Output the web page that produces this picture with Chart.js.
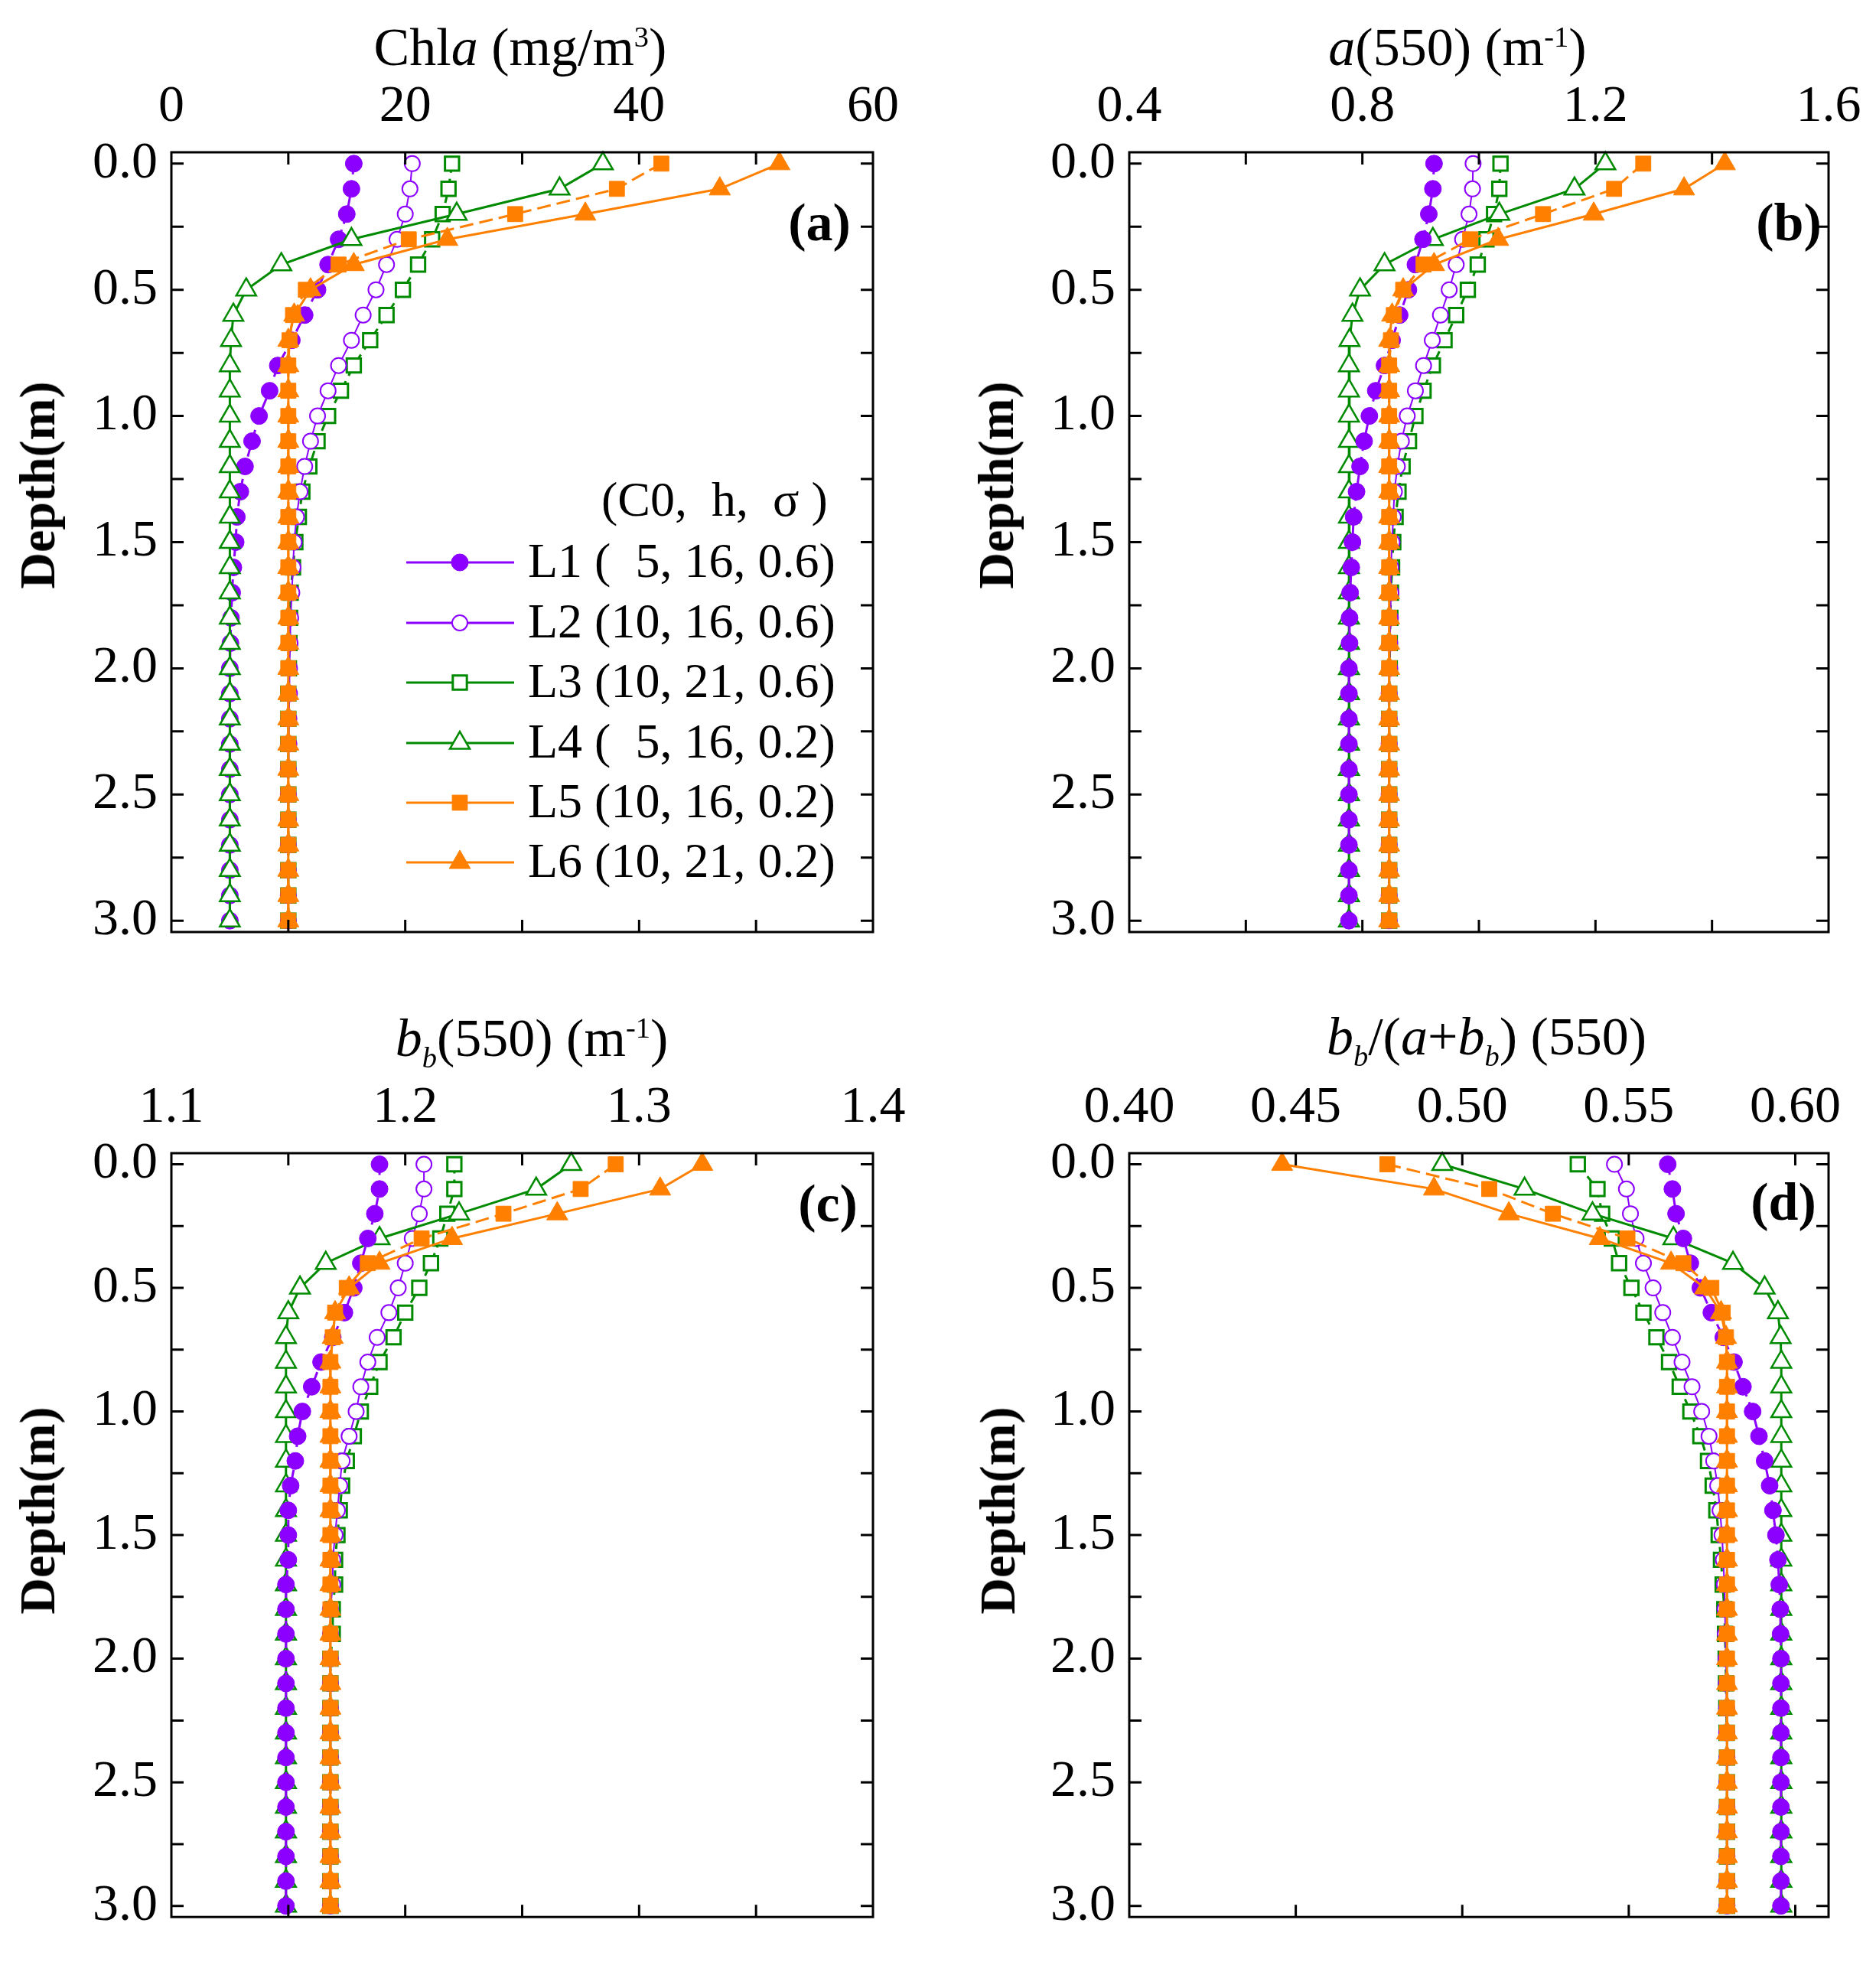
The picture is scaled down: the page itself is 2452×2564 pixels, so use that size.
<!DOCTYPE html>
<html>
<head>
<meta charset="utf-8">
<script src="https://cdn.jsdelivr.net/npm/chart.js@4.4.1/dist/chart.umd.min.js"></script>
<style>
  body { margin: 0; background: #fff; width: 2452px; height: 2564px; position: relative; overflow: hidden; font-family: "Liberation Serif", "Times New Roman", serif; }
  canvas { position: absolute; }
  .lbl { position: absolute; transform: translate(-50%, -50%); white-space: nowrap; font-size: 70px; color: #000; line-height: 1; }
  .lbl sup, .lbl sub { font-size: 0.55em; }
  .ytitle { position: absolute; transform: translate(-50%, -50%) rotate(-90deg); font-weight: bold; font-size: 66px; white-space: nowrap; }
  .panel { position: absolute; transform: translate(-50%, -50%); font-weight: bold; font-size: 70px; }
</style>
</head>
<body>
<canvas id="chartA" width="1226" height="1282" style="left:0;top:0"></canvas>
<canvas id="chartB" width="1226" height="1282" style="left:1226px;top:0"></canvas>
<canvas id="chartC" width="1226" height="1282" style="left:0;top:1282px"></canvas>
<canvas id="chartD" width="1226" height="1282" style="left:1226px;top:1282px"></canvas>

<div class="lbl" style="left:680px;top:62px">Chl<i>a</i> (mg/m<sup>3</sup>)</div>
<div class="lbl" style="left:1905px;top:62px"><i>a</i>(550) (m<sup>-1</sup>)</div>
<div class="lbl" style="left:695px;top:1362px"><i>b<sub>b</sub></i>(550) (m<sup>-1</sup>)</div>
<div class="lbl" style="left:1943px;top:1360px"><i>b<sub>b</sub></i>/(<i>a</i>+<i>b<sub>b</sub></i>) (550)</div>

<div class="ytitle" style="left:49px;top:634px">Depth(m)</div>
<div class="ytitle" style="left:1302px;top:634px">Depth(m)</div>
<div class="ytitle" style="left:49px;top:1974px">Depth(m)</div>
<div class="ytitle" style="left:1304px;top:1974px">Depth(m)</div>

<div class="panel" style="left:1071px;top:291px">(a)</div>
<div class="panel" style="left:2338px;top:291px">(b)</div>
<div class="panel" style="left:1082px;top:1573px">(c)</div>
<div class="panel" style="left:2331px;top:1571px">(d)</div>

<script>
// depth (m) of every sample
let depth = [0.0, 0.1, 0.2, 0.3, 0.4, 0.5, 0.6, 0.7, 0.8, 0.9, 1.0, 1.1, 1.2, 1.3, 1.4, 1.5,
    1.6, 1.7, 1.8, 1.9, 2.0, 2.1, 2.2, 2.3, 2.4, 2.5, 2.6, 2.7, 2.8, 2.9, 3.0];

let seriesNames = ['L1 (  5, 16, 0.6)', 'L2 (10, 16, 0.6)', 'L3 (10, 21, 0.6)',
    'L4 (  5, 16, 0.2)', 'L5 (10, 16, 0.2)', 'L6 (10, 21, 0.2)'];
let legendHeader = '(C0,  h,  σ )';

// (a) Chla (mg/m3)
let chlL1 = [15.6, 15.4, 15.0, 14.3, 13.4, 12.5, 11.4, 10.3, 9.1, 8.4, 7.5, 6.9, 6.3, 5.9, 5.6, 5.5,
    5.3, 5.2, 5.1, 5.05, 5.0, 5.0, 5.0, 5.0, 5.0, 5.0, 5.0, 5.0, 5.0, 5.0, 5.0];
let chlL2 = [20.6, 20.4, 20.0, 19.3, 18.4, 17.5, 16.4, 15.4, 14.3, 13.4, 12.5, 11.9, 11.4, 11.0, 10.7, 10.5,
    10.4, 10.3, 10.2, 10.15, 10.1, 10.1, 10.05, 10.05, 10.0, 10.0, 10.0, 10.0, 10.0, 10.0, 10.0];
let chlL3 = [24.0, 23.7, 23.2, 22.3, 21.1, 19.8, 18.4, 17.0, 15.6, 14.5, 13.4, 12.5, 11.8, 11.2, 10.9, 10.6,
    10.4, 10.2, 10.15, 10.1, 10.05, 10.0, 10.0, 10.0, 10.0, 10.0, 10.0, 10.0, 10.0, 10.0, 10.0];
let chlL4 = [36.9, 33.2, 24.4, 15.4, 9.4, 6.4, 5.3, 5.1, 5.0, 5.0, 5.0, 5.0, 5.0, 5.0, 5.0, 5.0,
    5.0, 5.0, 5.0, 5.0, 5.0, 5.0, 5.0, 5.0, 5.0, 5.0, 5.0, 5.0, 5.0, 5.0, 5.0];
let chlL5 = [41.9, 38.1, 29.4, 20.3, 14.3, 11.5, 10.4, 10.1, 10.0, 10.0, 10.0, 10.0, 10.0, 10.0, 10.0, 10.0,
    10.0, 10.0, 10.0, 10.0, 10.0, 10.0, 10.0, 10.0, 10.0, 10.0, 10.0, 10.0, 10.0, 10.0, 10.0];
let chlL6 = [52.0, 46.9, 35.4, 23.6, 15.6, 11.9, 10.5, 10.0, 10.0, 10.0, 10.0, 10.0, 10.0, 10.0, 10.0, 10.0,
    10.0, 10.0, 10.0, 10.0, 10.0, 10.0, 10.0, 10.0, 10.0, 10.0, 10.0, 10.0, 10.0, 10.0, 10.0];

// (b) a(550) (m-1)
let absL1 = [0.923, 0.921, 0.914, 0.904, 0.891, 0.879, 0.864, 0.851, 0.838, 0.823, 0.812, 0.803, 0.796, 0.790, 0.785, 0.783,
    0.781, 0.779, 0.778, 0.778, 0.777, 0.777, 0.777, 0.777, 0.777, 0.777, 0.777, 0.777, 0.777, 0.777, 0.777];
let absL2 = [0.990, 0.989, 0.983, 0.972, 0.961, 0.949, 0.934, 0.920, 0.905, 0.891, 0.877, 0.867, 0.860, 0.855, 0.853, 0.851,
    0.849, 0.849, 0.848, 0.847, 0.847, 0.846, 0.846, 0.846, 0.846, 0.846, 0.846, 0.846, 0.846, 0.846, 0.846];
let absL3 = [1.037, 1.035, 1.026, 1.013, 0.998, 0.981, 0.961, 0.941, 0.921, 0.905, 0.891, 0.880, 0.869, 0.862, 0.857, 0.853,
    0.851, 0.849, 0.848, 0.847, 0.847, 0.846, 0.846, 0.846, 0.846, 0.846, 0.846, 0.846, 0.846, 0.846, 0.846];
let absL4 = [1.217, 1.164, 1.035, 0.921, 0.838, 0.796, 0.783, 0.778, 0.777, 0.777, 0.777, 0.777, 0.777, 0.777, 0.777, 0.777,
    0.777, 0.777, 0.777, 0.777, 0.777, 0.777, 0.777, 0.777, 0.777, 0.777, 0.777, 0.777, 0.777, 0.777, 0.777];
let absL5 = [1.282, 1.232, 1.110, 0.985, 0.905, 0.870, 0.854, 0.849, 0.846, 0.846, 0.846, 0.846, 0.846, 0.846, 0.846, 0.846,
    0.846, 0.846, 0.846, 0.846, 0.846, 0.846, 0.846, 0.846, 0.846, 0.846, 0.846, 0.846, 0.846, 0.846, 0.846];
let absL6 = [1.422, 1.352, 1.197, 1.033, 0.923, 0.870, 0.851, 0.846, 0.846, 0.846, 0.846, 0.846, 0.846, 0.846, 0.846, 0.846,
    0.846, 0.846, 0.846, 0.846, 0.846, 0.846, 0.846, 0.846, 0.846, 0.846, 0.846, 0.846, 0.846, 0.846, 0.846];

// (c) bb(550) (m-1)
let bbL1 = [1.189, 1.189, 1.187, 1.184, 1.181, 1.178, 1.174, 1.169, 1.164, 1.160, 1.156, 1.154, 1.153, 1.151, 1.150, 1.150,
    1.150, 1.149, 1.149, 1.149, 1.149, 1.149, 1.149, 1.149, 1.149, 1.149, 1.149, 1.149, 1.149, 1.149, 1.149];
let bbL2 = [1.208, 1.208, 1.206, 1.203, 1.200, 1.197, 1.193, 1.188, 1.184, 1.181, 1.179, 1.176, 1.173, 1.172, 1.171, 1.170,
    1.169, 1.169, 1.168, 1.168, 1.168, 1.168, 1.168, 1.168, 1.168, 1.168, 1.168, 1.168, 1.168, 1.168, 1.168];
let bbL3 = [1.221, 1.221, 1.218, 1.215, 1.211, 1.206, 1.200, 1.195, 1.189, 1.185, 1.181, 1.178, 1.175, 1.173, 1.172, 1.171,
    1.170, 1.170, 1.169, 1.169, 1.168, 1.168, 1.168, 1.168, 1.168, 1.168, 1.168, 1.168, 1.168, 1.168, 1.168];
let bbL4 = [1.271, 1.256, 1.223, 1.189, 1.166, 1.155, 1.150, 1.149, 1.149, 1.149, 1.149, 1.149, 1.149, 1.149, 1.149, 1.149,
    1.149, 1.149, 1.149, 1.149, 1.149, 1.149, 1.149, 1.149, 1.149, 1.149, 1.149, 1.149, 1.149, 1.149, 1.149];
let bbL5 = [1.290, 1.275, 1.242, 1.207, 1.184, 1.175, 1.170, 1.169, 1.168, 1.168, 1.168, 1.168, 1.168, 1.168, 1.168, 1.168,
    1.168, 1.168, 1.168, 1.168, 1.168, 1.168, 1.168, 1.168, 1.168, 1.168, 1.168, 1.168, 1.168, 1.168, 1.168];
let bbL6 = [1.327, 1.309, 1.265, 1.220, 1.189, 1.176, 1.170, 1.169, 1.168, 1.168, 1.168, 1.168, 1.168, 1.168, 1.168, 1.168,
    1.168, 1.168, 1.168, 1.168, 1.168, 1.168, 1.168, 1.168, 1.168, 1.168, 1.168, 1.168, 1.168, 1.168, 1.168];

// (d) bb/(a+bb) (550)
let ratioL1 = [0.5617, 0.5631, 0.5642, 0.5664, 0.5685, 0.5715, 0.5748, 0.5784, 0.5816, 0.5843, 0.5872, 0.5891, 0.5908, 0.5923, 0.5933, 0.5942,
    0.5948, 0.5952, 0.5955, 0.5956, 0.5957, 0.5957, 0.5957, 0.5957, 0.5957, 0.5957, 0.5957, 0.5957, 0.5957, 0.5957, 0.5957];
let ratioL2 = [0.5457, 0.5493, 0.5505, 0.5522, 0.5544, 0.5573, 0.5602, 0.5631, 0.5660, 0.5690, 0.5719, 0.5741, 0.5755, 0.5767, 0.5774, 0.5780,
    0.5784, 0.5787, 0.5789, 0.5790, 0.5792, 0.5793, 0.5794, 0.5794, 0.5795, 0.5795, 0.5795, 0.5795, 0.5795, 0.5795, 0.5795];
let ratioL3 = [0.5347, 0.5406, 0.5420, 0.5449, 0.5471, 0.5508, 0.5544, 0.5583, 0.5621, 0.5653, 0.5685, 0.5715, 0.5738, 0.5752, 0.5763, 0.5770,
    0.5777, 0.5782, 0.5787, 0.5789, 0.5791, 0.5792, 0.5793, 0.5794, 0.5795, 0.5795, 0.5795, 0.5795, 0.5795, 0.5795, 0.5795];
let ratioL4 = [0.4940, 0.5187, 0.5391, 0.5634, 0.5813, 0.5908, 0.5948, 0.5956, 0.5958, 0.5958, 0.5958, 0.5958, 0.5958, 0.5958, 0.5958, 0.5958,
    0.5958, 0.5958, 0.5958, 0.5958, 0.5958, 0.5958, 0.5958, 0.5958, 0.5958, 0.5958, 0.5958, 0.5958, 0.5958, 0.5958, 0.5958];
let ratioL5 = [0.4775, 0.5081, 0.5272, 0.5496, 0.5664, 0.5748, 0.5782, 0.5792, 0.5795, 0.5795, 0.5795, 0.5795, 0.5795, 0.5795, 0.5795, 0.5795,
    0.5795, 0.5795, 0.5795, 0.5795, 0.5795, 0.5795, 0.5795, 0.5795, 0.5795, 0.5795, 0.5795, 0.5795, 0.5795, 0.5795, 0.5795];
let ratioL6 = [0.4459, 0.4915, 0.5140, 0.5413, 0.5627, 0.5729, 0.5777, 0.5792, 0.5795, 0.5795, 0.5795, 0.5795, 0.5795, 0.5795, 0.5795, 0.5795,
    0.5795, 0.5795, 0.5795, 0.5795, 0.5795, 0.5795, 0.5795, 0.5795, 0.5795, 0.5795, 0.5795, 0.5795, 0.5795, 0.5795, 0.5795];

// tick positions
let depthTicks = [0, 0.25, 0.5, 0.75, 1.0, 1.25, 1.5, 1.75, 2.0, 2.25, 2.5, 2.75, 3.0];
let chlTicks = [0, 10, 20, 30, 40, 50, 60];
let absTicks = [0.4, 0.6, 0.8, 1.0, 1.2, 1.4, 1.6];
let bbTicks = [1.1, 1.15, 1.2, 1.25, 1.3, 1.35, 1.4];
let ratioTicks = [0.40, 0.45, 0.50, 0.55, 0.60];

const PURPLE = '#8c00ff', GREEN = '#008a00', ORANGE = '#ff8000';
const FONT = '"Liberation Serif", "Times New Roman", serif';

// look of L1..L6 (lower "order" is drawn on top)
let looks = [
    {color: PURPLE, fill: PURPLE, style: 'circle', r: 11, bw: 1, lw: 3, dash: [14, 8], order: 2},
    {color: PURPLE, fill: '#fff', style: 'circle', r: 10, bw: 2, lw: 2, dash: [], order: 4},
    {color: GREEN, fill: '#fff', style: 'rect', r: 13, bw: 3, lw: 3, dash: [12, 8], order: 5},
    {color: GREEN, fill: '#fff', style: 'triangle', r: 15, bw: 2.5, lw: 3, dash: [], order: 3},
    {color: ORANGE, fill: ORANGE, style: 'rect', r: 14, bw: 1, lw: 3, dash: [18, 8], order: 1},
    {color: ORANGE, fill: ORANGE, style: 'triangle', r: 16, bw: 1, lw: 3, dash: [], order: 0}
];

function buildDatasets(seriesList, orderFix) {
    return seriesList.map((vals, i) => {
        let lk = looks[i];
        return {
            label: seriesNames[i],
            data: depth.map((d, j) => ({x: vals[j], y: d})),
            borderColor: lk.color,
            backgroundColor: lk.fill,
            borderWidth: lk.lw,
            borderDash: lk.dash,
            pointStyle: lk.style,
            pointRadius: lk.r,
            pointBorderWidth: lk.bw,
            pointBorderColor: lk.color,
            pointBackgroundColor: lk.fill,
            tension: 0,
            fill: false,
            clip: false,
            order: orderFix && orderFix[i] !== undefined ? orderFix[i] : lk.order
        };
    });
}

const TICK = 16;
// box round the plot with inward ticks on all four sides
const frameTicks = {
    id: 'frameTicks',
    afterDraw(chart) {
        const ctx = chart.ctx, a = chart.chartArea;
        const x = chart.scales.x, y = chart.scales.y;
        ctx.save();
        ctx.strokeStyle = '#000';
        ctx.setLineDash([]);
        ctx.lineWidth = 3;
        ctx.strokeRect(a.left, a.top, a.right - a.left, a.bottom - a.top);
        ctx.beginPath();
        x.ticks.forEach(t => {
            let px = x.getPixelForValue(t.value);
            if (px <= a.left + 2 || px >= a.right - 2) return;
            ctx.moveTo(px, a.top); ctx.lineTo(px, a.top + TICK);
            ctx.moveTo(px, a.bottom); ctx.lineTo(px, a.bottom - TICK);
        });
        y.ticks.forEach(t => {
            let py = y.getPixelForValue(t.value);
            ctx.moveTo(a.left, py); ctx.lineTo(a.left + TICK, py);
            ctx.moveTo(a.right, py); ctx.lineTo(a.right - TICK, py);
        });
        ctx.stroke();
        ctx.restore();
    }
};

// legend inside panel (a)
const insideLegend = {
    id: 'insideLegend',
    afterDraw(chart) {
        const ctx = chart.ctx;
        const rows = [735, 814, 892, 971, 1049, 1127];
        ctx.save();
        ctx.fillStyle = '#000';
        ctx.font = '64px ' + FONT;
        ctx.textBaseline = 'middle';
        ctx.textAlign = 'left';
        ctx.fillText(legendHeader, 786, 657);
        chart.data.datasets.forEach((ds, i) => {
            let lk = looks[i], yy = rows[i];
            ctx.strokeStyle = lk.color;
            ctx.lineWidth = 3;
            ctx.setLineDash([]);
            ctx.beginPath();
            ctx.moveTo(531, yy); ctx.lineTo(672, yy);
            ctx.stroke();
            ctx.fillStyle = lk.fill;
            ctx.lineWidth = lk.bw;
            Chart.helpers.drawPoint(ctx, {pointStyle: lk.style, radius: lk.r, borderWidth: lk.bw, rotation: 0}, 601, yy);
            ctx.fillStyle = '#000';
            ctx.fillText(ds.label, 690, yy + 2);
        });
        ctx.restore();
    }
};

function makeChart(id, seriesList, xTicks, xMin, xMax, xFmt, layout, extraPlugins, orderFix) {
    new Chart(document.getElementById(id), {
        type: 'line',
        data: {datasets: buildDatasets(seriesList, orderFix)},
        plugins: [frameTicks].concat(extraPlugins || []),
        options: {
            responsive: false,
            devicePixelRatio: 1,
            animation: false,
            events: [],
            layout: {padding: {left: 0, top: 0, right: layout.padRight, bottom: layout.padBottom}},
            plugins: {legend: {display: false}, tooltip: {enabled: false}},
            scales: {
                x: {
                    type: 'linear',
                    position: 'top',
                    min: xMin,
                    max: xMax,
                    afterBuildTicks: s => { s.ticks = xTicks.map(v => ({value: v})); },
                    afterFit: s => { s.height = layout.xHeight; },
                    grid: {display: false, drawTicks: false},
                    border: {display: false},
                    ticks: {
                        autoSkip: false, maxRotation: 0, padding: 18, color: '#000',
                        font: {family: FONT, size: 68},
                        callback: v => xFmt(v)
                    }
                },
                y: {
                    type: 'linear',
                    reverse: true,
                    min: -0.045,
                    max: 3.045,
                    afterBuildTicks: s => { s.ticks = depthTicks.map(v => ({value: v})); },
                    afterFit: s => { s.width = layout.yWidth; },
                    grid: {display: false, drawTicks: false},
                    border: {display: false},
                    ticks: {
                        autoSkip: false, padding: 18, color: '#000',
                        font: {family: FONT, size: 68},
                        callback: v => (Math.abs(v * 2 - Math.round(v * 2)) < 1e-6 ? v.toFixed(1) : '')
                    }
                }
            }
        }
    });
}

// in (a) the open triangles of L4 sit over the L1 dots
makeChart('chartA', [chlL1, chlL2, chlL3, chlL4, chlL5, chlL6], chlTicks, 0, 60,
    v => (Math.round(v) % 20 === 0 ? String(Math.round(v)) : ''),
    {yWidth: 224, xHeight: 199, padRight: 85, padBottom: 64}, [insideLegend], {0: 3, 3: 2});

makeChart('chartB', [absL1, absL2, absL3, absL4, absL5, absL6], absTicks, 0.4, 1.6,
    v => (Math.round(v * 10) % 4 === 0 ? v.toFixed(1) : ''),
    {yWidth: 250, xHeight: 199, padRight: 62, padBottom: 64});

makeChart('chartC', [bbL1, bbL2, bbL3, bbL4, bbL5, bbL6], bbTicks, 1.1, 1.4,
    v => (Math.abs(v * 10 - Math.round(v * 10)) < 1e-6 ? v.toFixed(1) : ''),
    {yWidth: 224, xHeight: 225, padRight: 85, padBottom: 35});

makeChart('chartD', [ratioL1, ratioL2, ratioL3, ratioL4, ratioL5, ratioL6], ratioTicks, 0.40, 0.61,
    v => v.toFixed(2),
    {yWidth: 250, xHeight: 225, padRight: 62, padBottom: 35});
</script>
</body>
</html>
